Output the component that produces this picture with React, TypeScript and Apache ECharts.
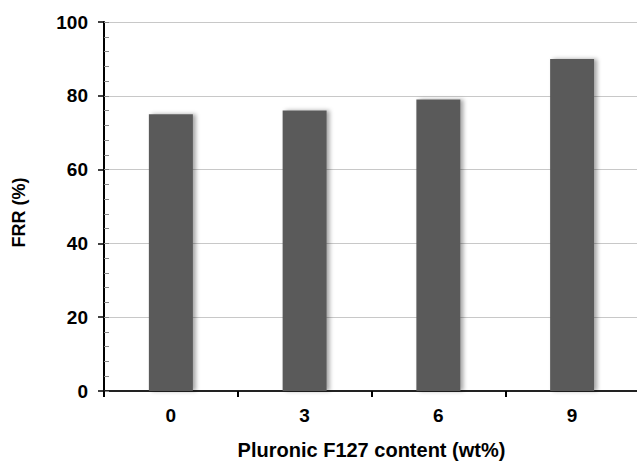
import React, { useEffect, useRef } from "react";
import * as echarts from "echarts";

const categories = ["0", "3", "6", "9"];
const frrValues = [75, 76, 79, 90];
const yTicks = { min: 0, max: 100, interval: 20 };
const xTitle = "Pluronic F127 content (wt%)";
const yTitle = "FRR (%)";

const FONT = "'Liberation Sans', Arial, Helvetica, sans-serif";

export default function App() {
  const ref = useRef<HTMLDivElement>(null);
  useEffect(() => {
    if (!ref.current) return;
    const chart = echarts.init(ref.current, null, { renderer: "svg" });
    chart.setOption({
      animation: false,
      backgroundColor: "#ffffff",
      grid: {
        left: 104,
        top: 22,
        right: -2,
        bottom: 70,
        containLabel: false,
        outerBoundsMode: "none",
      },
      xAxis: [
        {
          type: "category",
          data: categories,
          position: "bottom",
          boundaryGap: true,
          axisLine: { show: true, lineStyle: { color: "#000", width: 2 } },
          axisTick: { show: true, inside: false, length: 6, lineStyle: { color: "#000", width: 2 } },
          axisLabel: { color: "#000", fontSize: 19, fontWeight: "bold", fontFamily: FONT, margin: 15 },
          name: xTitle,
          nameLocation: "middle",
          nameGap: 49,
          nameTextStyle: { color: "#000", fontSize: 20, fontWeight: "bold", fontFamily: FONT },
          splitLine: { show: false },
        },
        {
          type: "category",
          data: categories,
          position: "top",
          axisLine: { show: true, lineStyle: { color: "#222", width: 2 } },
          axisTick: { show: false },
          axisLabel: { show: false },
          splitLine: { show: false },
        },
      ],
      yAxis: [
        {
          type: "value",
          min: yTicks.min,
          max: yTicks.max,
          interval: yTicks.interval,
          position: "left",
          axisLine: { show: true, lineStyle: { color: "#000", width: 2 } },
          axisTick: { show: true, inside: false, length: 6, lineStyle: { color: "#000", width: 1.5 } },
          axisLabel: { color: "#000", fontSize: 19, fontWeight: "bold", fontFamily: FONT, margin: 16 },
          splitLine: { show: true, lineStyle: { color: "#c8c8c8", width: 1 } },
          name: yTitle,
          nameLocation: "middle",
          nameGap: 76,
          nameRotate: 90,
          nameTextStyle: {
            color: "#000",
            fontSize: 18,
            fontWeight: "bold",
            fontFamily: FONT,
            padding: [0, 12, 0, 0],
          },
        },
        {
          type: "value",
          min: yTicks.min,
          max: yTicks.max,
          interval: 4,
          position: "left",
          axisLine: { show: false },
          axisTick: { show: true, inside: true, length: 5, lineStyle: { color: "#888", width: 1 } },
          axisLabel: { show: false },
          splitLine: { show: false },
        },
      ],
      series: [
        {
          type: "bar",
          data: frrValues,
          xAxisIndex: 0,
          yAxisIndex: 0,
          barWidth: 44,
          itemStyle: {
            color: "#5a5a5a",
            shadowColor: "rgba(0,0,0,0.35)",
            shadowBlur: 4,
            shadowOffsetX: 3,
            shadowOffsetY: 0,
          },
        },
      ],
    });
    return () => chart.dispose();
  }, []);
  return <div ref={ref} style={{ width: 637, height: 461, position: "absolute", left: 0, top: 0 }} />;
}
